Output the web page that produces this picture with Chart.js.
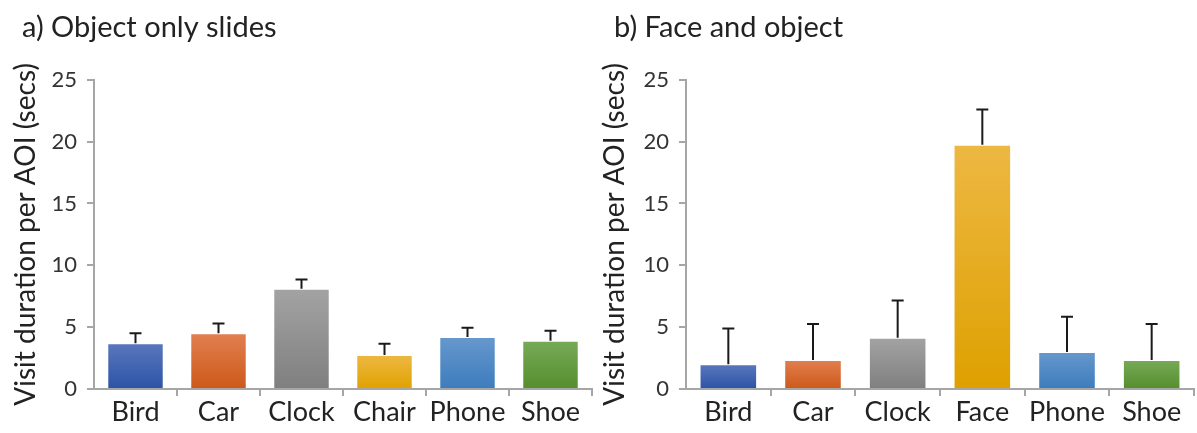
<!DOCTYPE html>
<html>
<head>
<meta charset="utf-8">
<script src="https://cdn.jsdelivr.net/npm/chart.js@4.4.1/dist/chart.umd.min.js"></script>
<style>
  body { margin: 0; background: #fff; }
  .panel { position: absolute; top: 0; height: 433px; }
  #panelA { left: 0; width: 600px; }
  #panelB { left: 600px; width: 597px; }
</style>
</head>
<body>
<div class="panel" id="panelA"><canvas id="chartA"></canvas></div>
<div class="panel" id="panelB"><canvas id="chartB"></canvas></div>
<script>
// DATA
const categoriesA = ["Bird", "Car", "Clock", "Chair", "Phone", "Shoe"]
const meansA = [3.7, 4.5, 8.1, 2.75, 4.2, 3.9]
const errorsA = [0.8, 0.8, 0.75, 0.9, 0.75, 0.8]

const categoriesB = ["Bird", "Car", "Clock", "Face", "Phone", "Shoe"]
const meansB = [2.0, 2.35, 4.15, 19.75, 3.0, 2.35]
const errorsB = [2.9, 2.9, 3.0, 2.85, 2.85, 2.9]

const yTicks = [0, 5, 10, 15, 20, 25]

// bar colours, [top, bottom] of the gradient
const barColors = {
    Bird: ["#5a77bd", "#2c53a6"],
    Car: ["#e27f50", "#cc5919"],
    Clock: ["#a3a3a3", "#7f7f7f"],
    Chair: ["#edb843", "#e0a200"],
    Face: ["#edb843", "#dea000"],
    Phone: ["#6698cd", "#3d7cbd"],
    Shoe: ["#78aa57", "#548e2d"]
}

const fontFamily = "Lato, 'Open Sans', sans-serif"
const axisGrey = "#a6a6a6"
const textColor = "#222"

function barGradient(ctx, categories) {
    const chart = ctx.chart
    if (!chart.chartArea || ctx.parsed === undefined) return barColors[categories[ctx.dataIndex]][1]
    const y = chart.scales.y
    const top = y.getPixelForValue(ctx.parsed.y)
    const bottom = y.getPixelForValue(0)
    const c = barColors[categories[ctx.dataIndex]]
    const g = chart.ctx.createLinearGradient(0, top, 0, bottom)
    g.addColorStop(0, c[0])
    g.addColorStop(1, c[1])
    return g
}

// upward-only error bars
const errorBarPlugin = {
    id: "errorBars",
    afterDatasetsDraw(chart, args, opts) {
        const ctx = chart.ctx
        const y = chart.scales.y
        const meta = chart.getDatasetMeta(0)
        const means = chart.data.datasets[0].data
        ctx.save()
        ctx.strokeStyle = "#1a1a1a"
        ctx.lineWidth = 2
        meta.data.forEach(function(bar, i) {
            const yTop = y.getPixelForValue(means[i] + opts.errors[i])
            ctx.beginPath()
            ctx.moveTo(bar.x, bar.y)
            ctx.lineTo(bar.x, yTop)
            ctx.moveTo(bar.x - opts.cap, yTop)
            ctx.lineTo(bar.x + opts.cap, yTop)
            ctx.stroke()
        })
        ctx.restore()
    }
}

function makeChart(canvasId, title, categories, means, errors, layout) {
    const n = categories.length
    return new Chart(document.getElementById(canvasId), {
        type: "bar",
        data: {
            labels: categories,
            datasets: [{
                data: means,
                backgroundColor: function(ctx) { return barGradient(ctx, categories) },
                borderColor: "rgba(255,255,255,0.5)",
                borderWidth: 1,
                borderSkipped: "bottom",
                categoryPercentage: 1,
                barPercentage: 0.68
            }]
        },
        options: {
            responsive: true,
            maintainAspectRatio: false,
            animation: false,
            layout: { padding: { left: layout.padLeft, right: layout.padRight, top: 0, bottom: 0 } },
            plugins: {
                legend: { display: false },
                tooltip: { enabled: false },
                title: {
                    display: true,
                    text: title,
                    align: "start",
                    color: textColor,
                    font: { family: fontFamily, size: 29, weight: "normal" },
                    padding: { top: 10, bottom: 35 }
                },
                errorBars: { errors: errors, cap: 6 }
            },
            scales: {
                x: {
                    grid: {
                        offset: true,
                        drawOnChartArea: false,
                        tickLength: 7,
                        lineWidth: 2,
                        color: function(ctx) {
                            return (ctx.index === 0 || ctx.index === n) ? "rgba(0,0,0,0)" : axisGrey
                        }
                    },
                    border: { color: axisGrey, width: 2 },
                    ticks: {
                        color: textColor,
                        padding: 0,
                        font: { family: fontFamily, size: 27 }
                    },
                    afterFit: function(scale) { scale.height = 44 }
                },
                y: {
                    min: 0,
                    max: 25,
                    afterBuildTicks: function(scale) {
                        scale.ticks = yTicks.map(function(v) { return { value: v } })
                    },
                    grid: {
                        drawOnChartArea: false,
                        tickLength: 7,
                        lineWidth: 2,
                        color: axisGrey
                    },
                    border: { color: axisGrey, width: 2 },
                    ticks: {
                        color: "#333",
                        padding: 10,
                        font: { family: fontFamily, size: 22 }
                    },
                    title: {
                        display: true,
                        text: "Visit duration per AOI (secs)",
                        color: textColor,
                        font: { family: fontFamily, size: 28 },
                        padding: { top: layout.titleOffset, bottom: 0 }
                    },
                    afterFit: function(scale) { scale.width = layout.yWidth }
                }
            }
        },
        plugins: [errorBarPlugin]
    })
}

makeChart("chartA", "a) Object only slides", categoriesA, meansA, errorsA,
    { padLeft: 22, padRight: 8, yWidth: 72, titleOffset: -13 })

makeChart("chartB", "b) Face and object", categoriesB, meansB, errorsB,
    { padLeft: 14, padRight: 3, yWidth: 72, titleOffset: -16 })
</script>
</body>
</html>
